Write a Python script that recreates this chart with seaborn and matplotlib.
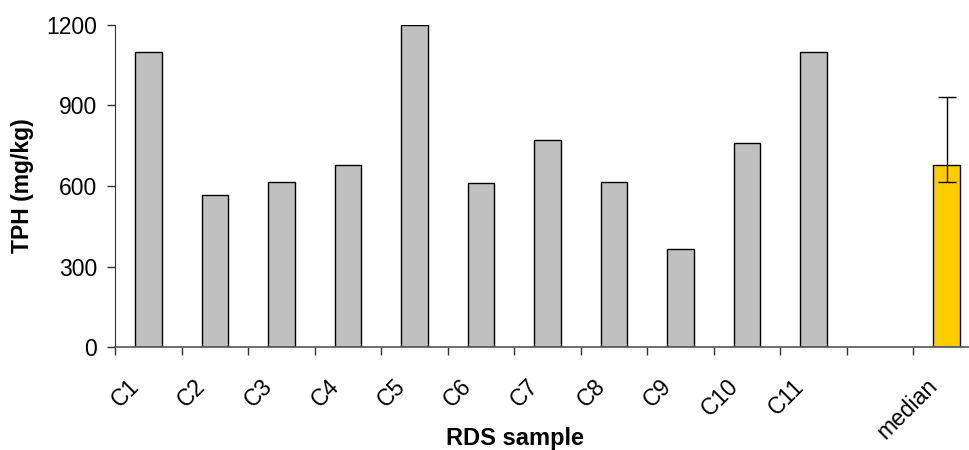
import numpy as np
import pandas as pd
import matplotlib
matplotlib.use("Agg")
import matplotlib.pyplot as plt
import matplotlib.transforms as mtransforms
import seaborn as sns

# dados
samples = ["C1", "C2", "C3", "C4", "C5", "C6", "C7", "C8", "C9", "C10", "C11", "median"]
tph = [1100, 565, 615, 680, 1200, 610, 770, 615, 365, 760, 1100, 680]
groups = ["sample"] * 11 + ["median"]
median_low = 615
median_high = 930
slot_order = samples[:11] + [" "] + ["median"]

sns.set_style("ticks")
plt.rcParams['font.family'] = ['Liberation Sans', 'DejaVu Sans']
plt.rcParams['text.color'] = 'black'
plt.rcParams['xtick.color'] = 'black'
plt.rcParams['ytick.color'] = 'black'
plt.rcParams['axes.labelcolor'] = 'black'

df = pd.DataFrame({"amostra": samples, "TPH": tph, "grupo": groups})

fig = plt.figure(figsize=(9.69, 4.5), dpi=100)
ax = fig.add_axes([115 / 969, 1 - 347 / 450, 865 / 969, 322 / 450])

sns.barplot(data=df, x="amostra", y="TPH", hue="grupo", order=slot_order,
            palette={"sample": "#C0C0C0", "median": "#FFCC00"}, saturation=1,
            edgecolor="black", linewidth=1, width=0.4, dodge=False,
            legend=False, ax=ax)

# barra de erro da mediana (assimétrica)
pos_med = slot_order.index("median")
ax.errorbar([pos_med], [tph[-1]],
            yerr=[[tph[-1] - median_low], [median_high - tph[-1]]],
            fmt="none", ecolor="black", elinewidth=1, capsize=6.5, capthick=1)

ax.set_ylim(0, 1200)
ax.set_yticks([0, 300, 600, 900, 1200])
ax.set_xlim(-0.5, len(slot_order) - 0.5)

# rótulos no centro, marcas nos limites (estilo Excel)
ax.set_xticks(range(len(slot_order)))
ax.set_xticklabels([s.strip() for s in slot_order], rotation=45, ha="right",
                   va="baseline", rotation_mode="anchor", fontsize=16.5)
ax.set_xticks(np.arange(-0.5, len(slot_order) - 0.5, 1), minor=True)
ax.tick_params(axis="x", which="major", length=0, pad=29)
ax.tick_params(axis="x", which="minor", length=6, width=1, color="#333333", direction="out")
ax.tick_params(axis="y", length=6, width=1, labelsize=16.5, color="#333333", pad=7)

sns.despine(ax=ax)
ax.spines["left"].set_color("#333333")
ax.spines["bottom"].set_color("#555555")
ax.spines["bottom"].set_linewidth(1.2)

ax.set_xlabel("RDS sample", fontsize=17, fontweight="bold")
ax.set_ylabel("TPH (mg/kg)", fontsize=16.5, fontweight="bold")
ax.xaxis.set_label_coords((515 - 115) / 865, -(427 - 347) / 322)
ax.yaxis.set_label_coords(-(115 - 34) / 865, 0.5)

# desloca os rótulos do eixo x um pouco para a esquerda
fig.canvas.draw()
shift = mtransforms.ScaledTranslation(-8 / 100, 0, fig.dpi_scale_trans)
for lab in ax.get_xticklabels():
    lab.set_transform(lab.get_transform() + shift)

fig.savefig("out.png", dpi=100)
